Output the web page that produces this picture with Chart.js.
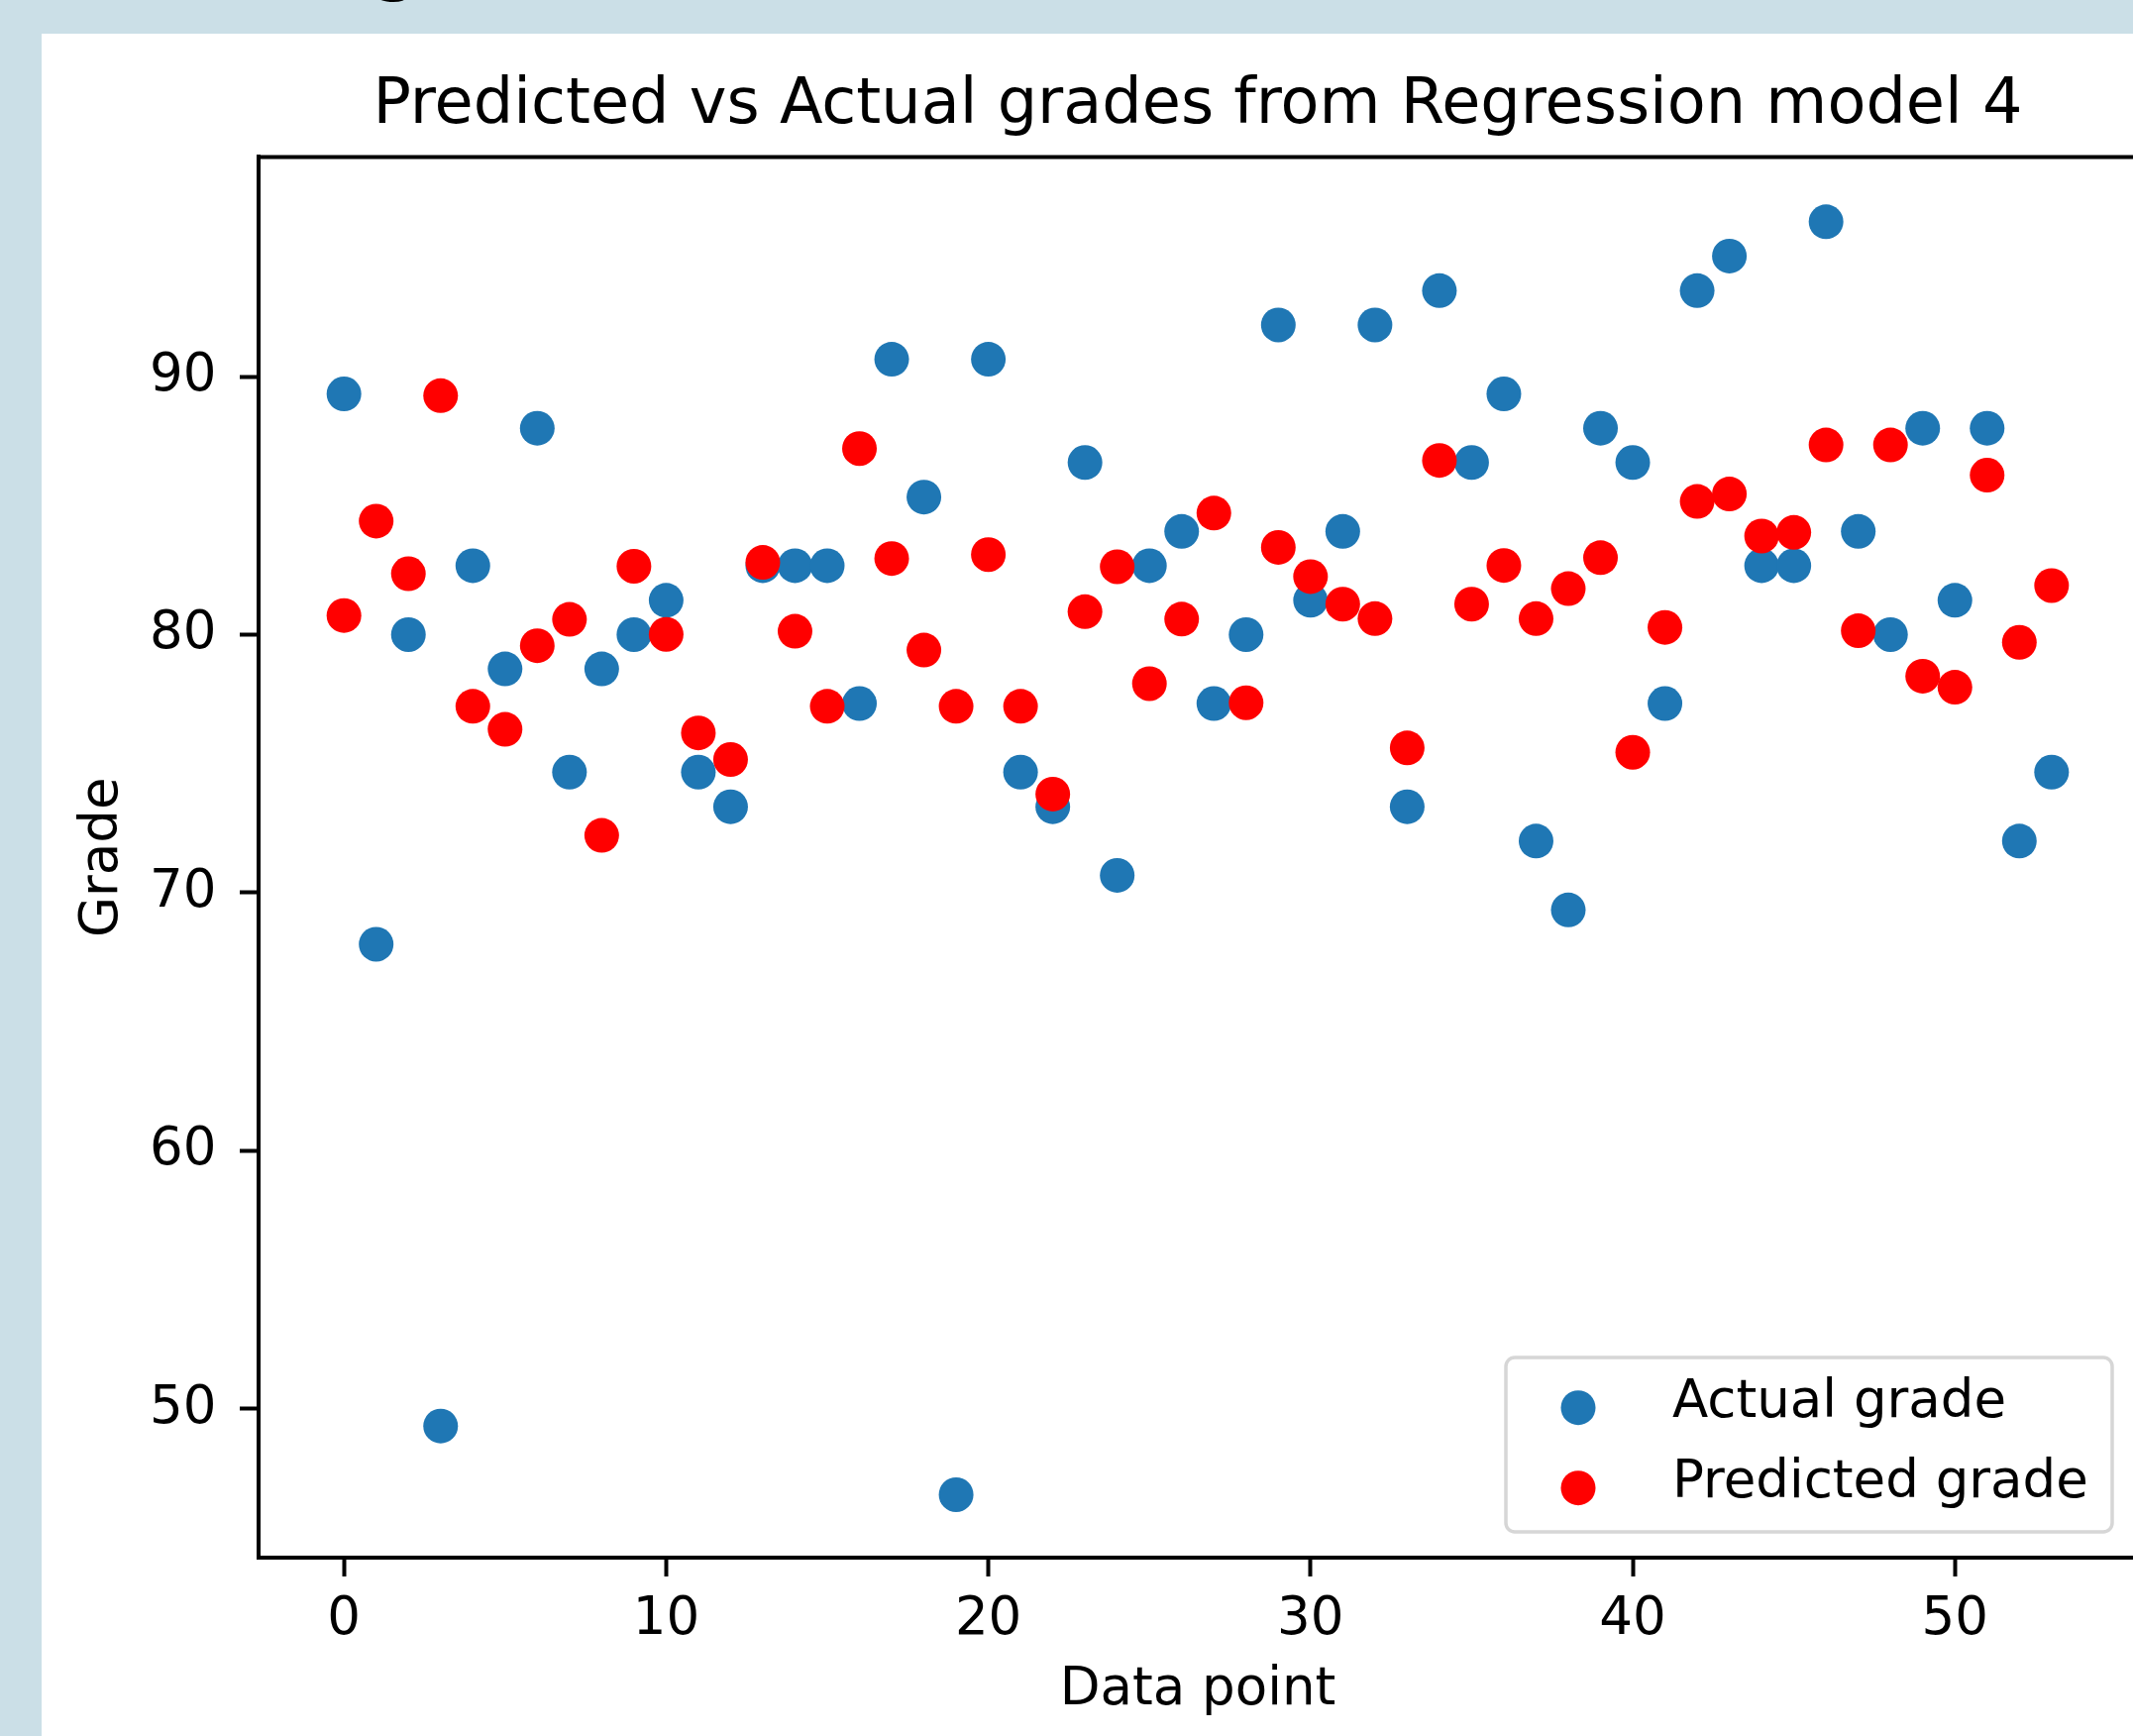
<!DOCTYPE html>
<html>
<head>
<meta charset="utf-8">
<script src="https://cdn.jsdelivr.net/npm/chart.js@4/dist/chart.umd.min.js"></script>
<style>
  html, body { margin: 0; padding: 0; width: 2153px; height: 1752px; overflow: hidden; background: #cbdfe7; }
  #panel { position: absolute; left: 42px; top: 34px; width: 2111px; height: 1718px; background: #fff; }
  #wrap { position: absolute; left: 42px; top: 34px; width: 2115px; height: 1718px; }
  #cut { position: absolute; left: 374px; top: -82px; font-family: 'DejaVu Sans'; font-size: 80px; line-height: 80px; color: #000; }
</style>
</head>
<body>
<div id="cut">g</div>
<div id="panel"></div>
<div id="wrap"><canvas id="grades"></canvas></div>
<script>
const dataPoint = [0, 1, 2, 3, 4, 5, 6, 7, 8, 9, 10, 11, 12, 13, 14, 15, 16, 17, 18, 19,
  20, 21, 22, 23, 24, 25, 26, 27, 28, 29, 30, 31, 32, 33, 34, 35, 36, 37, 38, 39,
  40, 41, 42, 43, 44, 45, 46, 47, 48, 49, 50, 51, 52, 53];
const actualGrade = [89.33, 68, 80, 49.33, 82.67, 78.67, 88, 74.67, 78.67, 80,
  81.33, 74.67, 73.33, 82.67, 82.67, 82.67, 77.33, 90.67, 85.33, 46.67,
  90.67, 74.67, 73.33, 86.67, 70.67, 82.67, 84, 77.33, 80, 92,
  81.33, 84, 92, 73.33, 93.33, 86.67, 89.33, 72, 69.33, 88,
  86.67, 77.33, 93.33, 94.67, 82.67, 82.67, 96, 84, 80, 88,
  81.33, 88, 72, 74.67];
const predictedGrade = [80.74, 84.40, 82.36, 89.26, 77.22, 76.33, 79.57, 80.59, 72.22, 82.65,
  80.01, 76.19, 75.16, 82.80, 80.13, 77.22, 87.21, 82.95, 79.40, 77.22,
  83.10, 77.22, 73.82, 80.89, 82.63, 78.10, 80.60, 84.71, 77.36, 83.38,
  82.25, 81.18, 80.62, 75.61, 86.75, 81.18, 82.68, 80.62, 81.78, 82.98,
  75.44, 80.28, 85.16, 85.45, 83.82, 83.96, 87.35, 80.15, 87.35, 78.39,
  77.96, 86.18, 79.70, 81.90];
const xTicks = [0, 10, 20, 30, 40, 50];
const yTicks = [50, 60, 70, 80, 90];

const FONT = 'DejaVu Sans';
const pts = ys => ys.map((y, i) => ({ x: dataPoint[i], y: y }));

// top + right spines, matplotlib style
const frame = {
  id: 'frame',
  afterDraw(chart) {
    const { ctx, chartArea: a } = chart;
    ctx.save();
    ctx.strokeStyle = '#000';
    ctx.lineWidth = 4;
    ctx.beginPath();
    ctx.moveTo(a.left - 2, a.top);
    ctx.lineTo(a.right, a.top);
    ctx.lineTo(a.right, a.bottom);
    ctx.stroke();
    ctx.restore();
  }
};

// legend box in the lower right of the axes
const legendBox = {
  id: 'legendBox',
  afterDraw(chart) {
    const { ctx, chartArea: a } = chart;
    const w = 612, h = 176;
    const x = a.right - 25 - w, y = a.bottom - 26 - h;
    ctx.save();
    ctx.beginPath();
    ctx.roundRect(x, y, w, h, 9);
    ctx.fillStyle = 'rgba(255,255,255,0.8)';
    ctx.fill();
    ctx.strokeStyle = '#d6d6d6';
    ctx.lineWidth = 3.5;
    ctx.stroke();
    ctx.font = '53px "' + FONT + '"';
    ctx.textBaseline = 'alphabetic';
    chart.data.datasets.forEach((ds, i) => {
      const rowY = y + 50.7 + i * 81;
      ctx.fillStyle = ds.backgroundColor;
      ctx.beginPath();
      ctx.arc(x + 73, rowY, 17.5, 0, Math.PI * 2);
      ctx.fill();
      ctx.fillStyle = '#000';
      ctx.fillText(ds.label, x + 168, rowY + 9.5);
    });
    ctx.restore();
  }
};

const tickFont = { family: FONT, size: 53 };

const chart = new Chart(document.getElementById('grades'), {
  type: 'scatter',
  data: {
    datasets: [{
      label: 'Actual grade',
      data: pts(actualGrade),
      backgroundColor: '#1f77b4',
      pointRadius: 17.5,
      pointHoverRadius: 17.5,
      pointBorderWidth: 0,
      order: 1
    }, {
      label: 'Predicted grade',
      data: pts(predictedGrade),
      backgroundColor: '#ff0000',
      pointRadius: 17.5,
      pointHoverRadius: 17.5,
      pointBorderWidth: 0,
      order: 0
    }]
  },
  options: {
    responsive: true,
    maintainAspectRatio: false,
    animation: false,
    layout: { padding: 0, autoPadding: false },
    plugins: {
      legend: { display: false },
      tooltip: { enabled: false },
      title: {
        display: true,
        fullSize: false,
        text: 'Predicted vs Actual grades from Regression model 4',
        color: '#000',
        font: { family: FONT, size: 63.7, weight: 'normal' },
        padding: { top: 35, bottom: 13 }
      }
    },
    scales: {
      x: {
        type: 'linear',
        min: -2.65,
        max: 55.65,
        afterBuildTicks: s => { s.ticks = xTicks.map(v => ({ value: v })); },
        afterFit: s => { s.height = 180; },
        ticks: { color: '#000', font: tickFont, padding: 12.5, autoSkip: false, maxRotation: 0 },
        grid: { drawOnChartArea: false, tickLength: 19, tickWidth: 4, tickColor: '#000' },
        border: { display: true, color: '#000', width: 4 },
        title: { display: true, text: 'Data point', color: '#000', font: tickFont, padding: { top: 0, bottom: 13.5 } }
      },
      y: {
        type: 'linear',
        min: 44.23,
        max: 98.51,
        afterBuildTicks: s => { s.ticks = yTicks.map(v => ({ value: v })); },
        afterFit: s => { s.width = 219; },
        ticks: { color: '#000', font: tickFont, padding: 23.5, autoSkip: false },
        grid: { drawOnChartArea: false, tickLength: 19, tickWidth: 4, tickColor: '#000' },
        border: { display: true, color: '#000', width: 4 },
        title: { display: true, text: 'Grade', color: '#000', font: tickFont, padding: { top: 30.5, bottom: 0 } }
      }
    }
  },
  plugins: [frame, legendBox]
});
</script>
</body>
</html>
